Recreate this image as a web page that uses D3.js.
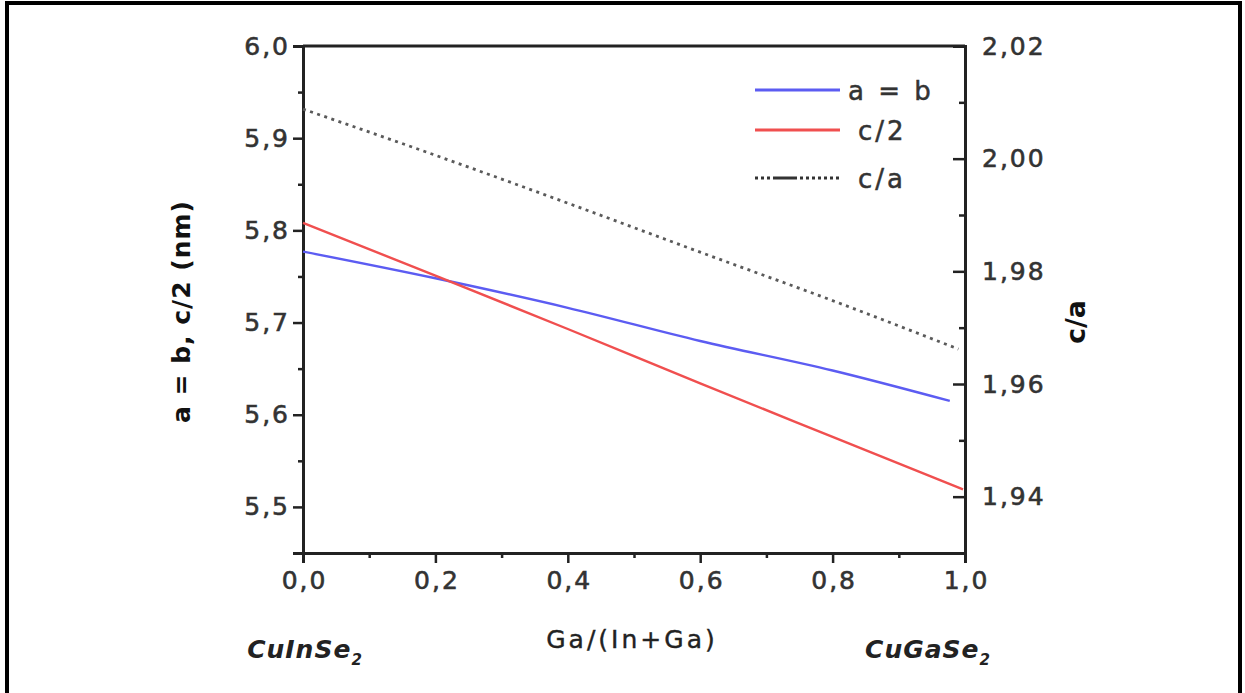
<!DOCTYPE html>
<html>
<head>
<meta charset="utf-8">
<script src="https://cdn.jsdelivr.net/npm/d3@7"></script>
<style>
  body { margin: 0; background: #fff; }
  text { font-family: "DejaVu Sans", "Liberation Sans", Arial, sans-serif; }
</style>
</head>
<body>
<div id="chart"></div>
<script>
// data
var aX = [0, 0.2, 0.4, 0.6, 0.8, 0.977];
var aValues = [5.777, 5.748, 5.716, 5.680, 5.648, 5.615];
var c2X = [0, 0.2, 0.4, 0.6, 0.8, 0.997];
var c2Values = [5.808, 5.751, 5.693, 5.634, 5.576, 5.519];
var caX = [0, 0.2, 0.4, 0.6, 0.8, 0.99];
var caValues = [2.0088, 2.0006, 1.9921, 1.9834, 1.9748, 1.9662];

var xTicks = [0, 0.2, 0.4, 0.6, 0.8, 1.0];
var xMinor = [0.1, 0.3, 0.5, 0.7, 0.9];
var leftTicks = [5.5, 5.6, 5.7, 5.8, 5.9, 6.0];
var leftMinor = [5.45, 5.55, 5.65, 5.75, 5.85, 5.95];
var rightTicks = [1.94, 1.96, 1.98, 2.00, 2.02];
var rightMinor = [1.93, 1.95, 1.97, 1.99, 2.01];
var legendNames = ["a = b", "c/2", "c/a"];

var width = 1245, height = 693;
var plotLeft = 303, plotRight = 965, plotTop = 46, plotBottom = 553;

var svg = d3.select("#chart").append("svg")
  .attr("width", width)
  .attr("height", height);

// outer frame of the figure
svg.append("path")
  .attr("d", "M7,693 L7,3 L1240,3 L1240,693")
  .attr("fill", "none")
  .attr("stroke", "#000")
  .attr("stroke-width", 4);

var x = d3.scaleLinear().domain([0, 1]).range([plotLeft, plotRight]);
var yL = d3.scaleLinear().domain([5.45, 6.0]).range([plotBottom, plotTop]);
var yR = d3.scaleLinear().domain([1.93, 2.02]).range([plotBottom, plotTop]);

var comma = function(d) { return d3.format(".1f")(d).replace(".", ","); };
var comma2 = function(d) { return d3.format(".2f")(d).replace(".", ","); };

function styleAxis(g) {
  g.selectAll("path").attr("stroke", "#222").attr("stroke-width", 3);
  g.selectAll("line").attr("stroke", "#222").attr("stroke-width", 2.5);
  g.selectAll("text")
    .attr("fill", "#333")
    .attr("stroke", "#333")
    .attr("stroke-width", 0.6)
    .style("font-family", "'DejaVu Sans', sans-serif")
    .style("font-size", "25px")
    .style("letter-spacing", "2px");
}

// minor ticks first
svg.append("g").attr("transform", "translate(0," + plotBottom + ")")
  .call(d3.axisBottom(x).tickValues(xMinor).tickSize(5).tickFormat(""))
  .call(styleAxis);
svg.append("g").attr("transform", "translate(" + plotLeft + ",0)")
  .call(d3.axisLeft(yL).tickValues(leftMinor).tickSize(5).tickFormat(""))
  .call(styleAxis);
svg.append("g").attr("transform", "translate(" + plotRight + ",0)")
  .call(d3.axisLeft(yR).tickValues(rightMinor).tickSize(6).tickFormat(""))
  .call(styleAxis);

// major ticks
var xAxis = svg.append("g").attr("transform", "translate(0," + plotBottom + ")")
  .call(d3.axisBottom(x).tickValues(xTicks).tickSize(10).tickPadding(8).tickFormat(comma))
  .call(styleAxis);
xAxis.selectAll("text").attr("dx", "1px");

svg.append("g").attr("transform", "translate(" + plotLeft + ",0)")
  .call(d3.axisLeft(yL).tickValues(leftTicks).tickSize(10).tickPadding(3).tickFormat(comma))
  .call(styleAxis);

var rightAxis = svg.append("g").attr("transform", "translate(" + plotRight + ",0)")
  .call(d3.axisLeft(yR).tickValues(rightTicks).tickSize(12).tickFormat(comma2))
  .call(styleAxis);
rightAxis.selectAll("text")
  .attr("text-anchor", "start")
  .attr("x", 17);

// top frame of plot
svg.append("line")
  .attr("x1", plotLeft).attr("x2", plotRight)
  .attr("y1", plotTop).attr("y2", plotTop)
  .attr("stroke", "#222").attr("stroke-width", 3);

// series
var lineL = d3.line().curve(d3.curveMonotoneX)
  .x(function(d) { return x(d[0]); }).y(function(d) { return yL(d[1]); });
var lineR = d3.line().curve(d3.curveMonotoneX)
  .x(function(d) { return x(d[0]); }).y(function(d) { return yR(d[1]); });

svg.append("path")
  .datum(d3.zip(caX, caValues))
  .attr("fill", "none")
  .attr("stroke", "#5a5a5a")
  .attr("stroke-width", 2.8)
  .attr("stroke-dasharray", "3,4.5")
  .attr("d", lineR);

svg.append("path")
  .datum(d3.zip(aX, aValues))
  .attr("fill", "none")
  .attr("stroke", "#5c5cf2")
  .attr("stroke-width", 2.4)
  .attr("d", lineL);

svg.append("path")
  .datum(d3.zip(c2X, c2Values))
  .attr("fill", "none")
  .attr("stroke", "#f04f4f")
  .attr("stroke-width", 2.4)
  .attr("d", lineL);

// legend
var legendColors = ["#5c5cf2", "#f04f4f", "#333"];
var legendDash = [null, null, "3,3,3,3,3,3,24,3,3,3,3,3,3,3,3,3"];
var legendY = [90, 130, 178];
var legendTextX = [848, 858, 858];
legendNames.forEach(function(name, i) {
  svg.append("line")
    .attr("x1", 755).attr("x2", 840)
    .attr("y1", legendY[i]).attr("y2", legendY[i])
    .attr("stroke", legendColors[i])
    .attr("stroke-width", 2.8)
    .attr("stroke-dasharray", legendDash[i]);
  svg.append("text")
    .attr("x", legendTextX[i])
    .attr("y", legendY[i] + 10)
    .attr("fill", "#333")
    .attr("stroke", "#333")
    .attr("stroke-width", 0.5)
    .style("font-size", "26px")
    .style("letter-spacing", "3px")
    .text(name);
});

// axis titles
svg.append("text")
  .attr("transform", "translate(190," + ((plotTop + plotBottom) / 2 + 12) + ") rotate(-90)")
  .attr("text-anchor", "middle")
  .attr("fill", "#111")
  .style("font-size", "25px")
  .style("font-weight", "bold")
  .style("letter-spacing", "1px")
  .text("a = b, c/2 (nm)");

svg.append("text")
  .attr("transform", "translate(1085,322) rotate(-90)")
  .attr("text-anchor", "middle")
  .attr("fill", "#111")
  .style("font-size", "27px")
  .style("font-weight", "bold")
  .text("c/a");

svg.append("text")
  .attr("x", 632).attr("y", 648)
  .attr("text-anchor", "middle")
  .attr("fill", "#222")
  .attr("stroke", "#222")
  .attr("stroke-width", 0.4)
  .style("font-size", "25px")
  .style("letter-spacing", "3px")
  .text("Ga/(In+Ga)");

function compound(xPos, base) {
  var t = svg.append("text")
    .attr("x", xPos).attr("y", 658)
    .attr("text-anchor", "middle")
    .attr("fill", "#222")
    .style("font-size", "25px")
    .style("font-weight", "bold")
    .style("font-style", "italic")
    .style("letter-spacing", "1px");
  t.append("tspan").text(base);
  t.append("tspan").attr("dy", 7).style("font-size", "15px").text("2");
}
compound(305, "CuInSe");
compound(928, "CuGaSe");
</script>
</body>
</html>
